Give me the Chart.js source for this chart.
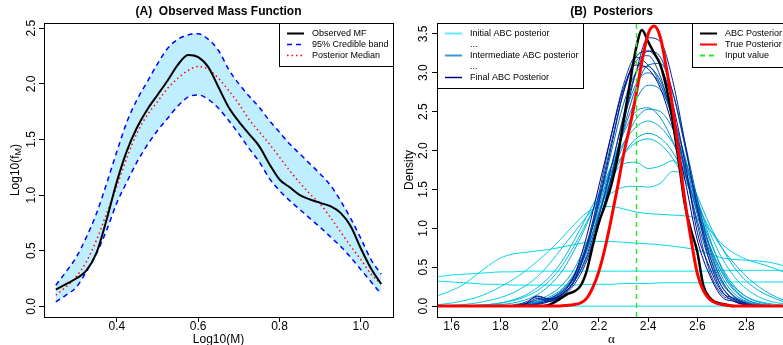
<!DOCTYPE html>
<html>
<head>
<meta charset="utf-8">
<script src="https://cdn.jsdelivr.net/npm/chart.js@4"></script>
<style>
  html, body { margin: 0; padding: 0; background: #fff; overflow: hidden; width: 783px; height: 345px; }
  #left { position: absolute; left: 0; top: 0; }
  #right { position: absolute; left: 400px; top: 0; }
</style>
</head>
<body>
<canvas id="left" width="400" height="345"></canvas>
<canvas id="right" width="400" height="345"></canvas>
<script>
// ---- panel A data ----
const massGrid = [0.25, 0.275, 0.3, 0.325, 0.35, 0.375, 0.4, 0.425, 0.45, 0.475, 0.5, 0.525, 0.55, 0.575, 0.6, 0.625, 0.65,
  0.675, 0.7, 0.725, 0.75, 0.775, 0.8, 0.825, 0.85, 0.875, 0.9, 0.925, 0.95, 0.975, 1.0, 1.025, 1.05];
const observedMF = [0.15, 0.20, 0.25, 0.32, 0.48, 0.78, 1.12, 1.40, 1.61, 1.77, 1.90, 2.03, 2.17, 2.26, 2.24, 2.15, 1.97,
  1.79, 1.66, 1.55, 1.44, 1.28, 1.14, 1.07, 1.00, 0.96, 0.93, 0.90, 0.84, 0.72, 0.52, 0.34, 0.20];
const bandUpper = [0.19, 0.31, 0.44, 0.62, 0.835, 1.105, 1.39, 1.66, 1.86, 2.02, 2.18, 2.32, 2.40, 2.44, 2.45, 2.40, 2.30,
  2.13, 2.0, 1.89, 1.79, 1.67, 1.565, 1.46, 1.37, 1.28, 1.19, 1.09, 0.95, 0.79, 0.61, 0.42, 0.29];
const bandLower = [0.04, 0.10, 0.17, 0.31, 0.475, 0.685, 0.93, 1.12, 1.30, 1.45, 1.58, 1.69, 1.80, 1.88, 1.90, 1.86, 1.78,
  1.67, 1.55, 1.42, 1.30, 1.15, 1.04, 0.95, 0.87, 0.79, 0.71, 0.625, 0.54, 0.44, 0.33, 0.22, 0.11];
const posteriorMedian = [0.10, 0.175, 0.265, 0.40, 0.595, 0.835, 1.08, 1.34, 1.56, 1.72, 1.84, 1.96, 2.05, 2.12, 2.155, 2.13, 2.05,
  1.94, 1.82, 1.68, 1.57, 1.46, 1.34, 1.22, 1.11, 1.01, 0.92, 0.80, 0.67, 0.54, 0.42, 0.29, 0.20];
const massTicksX = [0.4, 0.6, 0.8, 1.0];
const massTicksY = [0, 0.5, 1.0, 1.5, 2.0, 2.5];
const legendA = ['Observed MF', '95% Credible band', 'Posterior Median'];

// ---- panel B data ----
const alphaWide = [1.5, 1.55, 1.6, 1.65, 1.7, 1.75, 1.8, 1.85, 1.9, 1.95, 2.0, 2.05, 2.1, 2.15, 2.2, 2.25, 2.3, 2.35, 2.4,
  2.45, 2.5, 2.55, 2.6, 2.65, 2.7, 2.75, 2.8, 2.85, 2.9, 2.95, 3.0];
const earlyPosteriors = [
  [0, 0, 0, 0, 0, 0, 0, 0, 0, 0, 0, 0, 0, 0, 0, 0, 0, 0, 0, 0, 0, 0, 0, 0, 0, 0, 0, 0, 0, 0, 0],
  [0.37, 0.38, 0.40, 0.41, 0.42, 0.43, 0.44, 0.44, 0.45, 0.45, 0.45, 0.45, 0.45, 0.45, 0.45, 0.45, 0.45, 0.45, 0.45, 0.45,
    0.45, 0.45, 0.45, 0.45, 0.46, 0.46, 0.46, 0.46, 0.46, 0.46, 0.46],
  [0.33, 0.32, 0.31, 0.30, 0.29, 0.28, 0.28, 0.27, 0.27, 0.27, 0.27, 0.27, 0.27, 0.28, 0.28, 0.28, 0.29, 0.29, 0.29, 0.30,
    0.30, 0.30, 0.30, 0.30, 0.31, 0.31, 0.31, 0.31, 0.31, 0.31, 0.31],
  [0.08, 0.14, 0.2, 0.28, 0.4, 0.52, 0.62, 0.67, 0.69, 0.71, 0.73, 0.76, 0.79, 0.82, 0.83, 0.83, 0.82, 0.81, 0.8, 0.79,
    0.77, 0.75, 0.72, 0.67, 0.62, 0.6, 0.59, 0.58, 0.56, 0.52, 0.48],
  [0, 0.02, 0.04, 0.07, 0.11, 0.17, 0.25, 0.34, 0.45, 0.58, 0.72, 0.88, 1.05, 1.2, 1.27, 1.28, 1.25, 1.21, 1.19, 1.18,
    1.17, 1.16, 1.12, 0.98, 0.8, 0.68, 0.6, 0.55, 0.5, 0.44, 0.38],
  [0, 0.005, 0.01, 0.02, 0.04, 0.07, 0.11, 0.17, 0.26, 0.38, 0.55, 0.75, 0.95, 1.15, 1.32, 1.45, 1.53, 1.54, 1.53, 1.58,
    1.73, 1.68, 1.35, 0.95, 0.62, 0.38, 0.22, 0.12, 0.06, 0.03, 0.01],
  [0, 0, 0, 0, 0.01, 0.02, 0.04, 0.07, 0.12, 0.2, 0.33, 0.52, 0.78, 1.08, 1.4, 1.65, 1.83, 1.85, 1.77, 1.8,
    1.87, 1.68, 1.22, 0.78, 0.45, 0.24, 0.12, 0.06, 0.03, 0.01, 0],
  [0, 0, 0, 0, 0.01, 0.02, 0.04, 0.08, 0.14, 0.24, 0.38, 0.58, 0.85, 1.15, 1.45, 1.72, 1.95, 2.1, 2.15, 2.08,
    1.9, 1.62, 1.3, 1.0, 0.75, 0.55, 0.38, 0.25, 0.15, 0.08, 0.04],
  [0, 0, 0, 0, 0, 0.01, 0.02, 0.04, 0.08, 0.15, 0.27, 0.45, 0.72, 1.05, 1.42, 1.8, 2.1, 2.3, 2.38, 2.3,
    2.1, 1.8, 1.42, 1.05, 0.75, 0.5, 0.32, 0.2, 0.12, 0.06, 0.03]
];
const alphaNarrow = [1.85, 1.9, 1.95, 2.0, 2.05, 2.1, 2.15, 2.2, 2.25, 2.3, 2.35, 2.4, 2.45, 2.5, 2.55, 2.6, 2.65, 2.7,
  2.75, 2.8, 2.85, 2.9];
const latePosteriors = [
  [0.02, 0.04, 0.08, 0.15, 0.27, 0.48, 0.82, 1.22, 1.62, 1.95, 2.15, 2.22, 2.16, 1.98, 1.68, 1.28, 0.85, 0.5, 0.26, 0.12, 0.05, 0.02],
  [0.01, 0.03, 0.06, 0.12, 0.22, 0.42, 0.75, 1.18, 1.65, 2.08, 2.4, 2.53, 2.5, 2.28, 1.88, 1.38, 0.88, 0.48, 0.22, 0.09, 0.03, 0.01],
  [0, 0.02, 0.05, 0.1, 0.2, 0.4, 0.78, 1.28, 1.8, 2.22, 2.5, 2.55, 2.42, 2.12, 1.7, 1.22, 0.78, 0.43, 0.2, 0.08, 0.03, 0],
  [0, 0.01, 0.04, 0.09, 0.19, 0.38, 0.72, 1.18, 1.72, 2.25, 2.65, 2.84, 2.78, 2.45, 1.92, 1.32, 0.78, 0.38, 0.16, 0.06, 0.02, 0],
  [0, 0.01, 0.04, 0.09, 0.18, 0.36, 0.7, 1.2, 1.8, 2.4, 2.85, 3.0, 2.85, 2.45, 1.88, 1.25, 0.7, 0.33, 0.13, 0.05, 0.01, 0],
  [0, 0.02, 0.05, 0.1, 0.2, 0.4, 0.78, 1.32, 1.98, 2.6, 3.0, 3.08, 2.85, 2.4, 1.8, 1.18, 0.65, 0.3, 0.12, 0.04, 0.01, 0],
  [0, 0.01, 0.03, 0.07, 0.15, 0.32, 0.62, 1.08, 1.65, 2.28, 2.8, 3.1, 3.12, 2.75, 2.1, 1.38, 0.75, 0.33, 0.12, 0.04, 0.01, 0],
  [0, 0.03, 0.08, 0.1, 0.18, 0.38, 0.8, 1.4, 2.1, 2.75, 3.15, 3.22, 2.95, 2.4, 1.72, 1.1, 0.58, 0.25, 0.09, 0.03, 0, 0],
  [0, 0.05, 0.12, 0.08, 0.15, 0.32, 0.78, 1.45, 2.2, 2.85, 3.2, 3.1, 2.9, 2.45, 1.75, 1.05, 0.45, 0.15, 0.08, 0.02, 0, 0],
  [0, 0.01, 0.03, 0.08, 0.16, 0.32, 0.65, 1.15, 1.78, 2.45, 3.0, 3.28, 3.2, 2.75, 2.05, 1.3, 0.65, 0.25, 0.08, 0.02, 0, 0],
  [0, 0, 0.02, 0.06, 0.13, 0.28, 0.58, 1.05, 1.65, 2.35, 3.0, 3.45, 3.4, 2.9, 2.1, 1.25, 0.58, 0.2, 0.06, 0.02, 0, 0],
  [0, 0.02, 0.1, 0.06, 0.14, 0.34, 0.75, 1.35, 2.05, 2.75, 3.2, 3.28, 3.1, 2.6, 1.85, 0.95, 0.5, 0.18, 0.1, 0.03, 0, 0],
  [0, 0.03, 0.13, 0.09, 0.16, 0.4, 0.9, 1.55, 2.2, 2.8, 3.1, 3.05, 2.8, 2.3, 1.62, 0.85, 0.4, 0.12, 0.06, 0.01, 0, 0]
];
const abcAlpha = [1.975, 2.0, 2.025, 2.05, 2.075, 2.1, 2.125, 2.15, 2.175, 2.2, 2.225, 2.25, 2.275, 2.3, 2.325, 2.35,
  2.375, 2.4, 2.425, 2.45, 2.475, 2.5, 2.525, 2.55, 2.575, 2.6, 2.625, 2.65, 2.675, 2.7, 2.725, 2.75];
const abcPosterior = [0, 0.02, 0.06, 0.11, 0.16, 0.19, 0.26, 0.45, 0.78, 1.08, 1.3, 1.55, 1.9, 2.38, 2.85, 3.3,
  3.55, 3.4, 3.25, 3.1, 2.8, 2.38, 1.85, 1.3, 0.97, 0.7, 0.26, 0.11, 0.05, 0.03, 0.01, 0];
const trueAlpha = [1.5, 1.975, 2.0, 2.025, 2.05, 2.075, 2.1, 2.125, 2.15, 2.175, 2.2, 2.225, 2.25, 2.275, 2.3, 2.325, 2.35,
  2.375, 2.4, 2.425, 2.45, 2.475, 2.5, 2.525, 2.55, 2.575, 2.6, 2.625, 2.65, 2.675, 2.7, 2.725, 2.75, 3.0];
const truePosterior = [0, 0, 0, 0, 0.005, 0.01, 0.02, 0.04, 0.1, 0.24, 0.45, 0.75, 1.12, 1.52, 1.95, 2.3, 2.7,
  3.15, 3.5, 3.6, 3.45, 3.05, 2.55, 1.95, 1.35, 0.85, 0.42, 0.2, 0.09, 0.04, 0.02, 0.01, 0, 0];
const inputValue = 2.35;
const alphaTicksX = [1.6, 1.8, 2.0, 2.2, 2.4, 2.6, 2.8];
const densityTicksY = [0, 0.5, 1.0, 1.5, 2.0, 2.5, 3.0, 3.5];
const legendB1 = ['Initial ABC posterior', '...', 'Intermediate ABC posterior', '...', 'Final ABC Posterior'];
const legendB2 = ['ABC Posterior', 'True Posterior', 'Input value'];

const FONT = '"Liberation Sans", Arial, Helvetica, sans-serif';
Chart.defaults.font.family = FONT;
Chart.defaults.color = '#000';

const pts = (xs, ys) => xs.map((x, i) => ({ x: x, y: ys[i] }));

function rampColor(i, n) {
  const t = Math.pow(i / (n - 1), 1.6);
  const c0 = [0, 225, 240], c1 = [0, 0, 130];
  const c = c0.map((v, k) => Math.round(v + (c1[k] - v) * t));
  return 'rgb(' + c.join(',') + ')';
}

function fixTicks(values) {
  return scale => { scale.ticks = values.map(v => ({ value: v })); };
}

function drawLegend(ctx, box, items) {
  ctx.setLineDash([]);
  ctx.fillStyle = '#fff';
  ctx.fillRect(box.l, box.t, box.r - box.l, box.b - box.t);
  ctx.strokeStyle = '#000';
  ctx.lineWidth = 1;
  ctx.strokeRect(box.l + 0.5, box.t + 0.5, box.r - box.l, box.b - box.t);
  ctx.font = '9px ' + FONT;
  ctx.textAlign = 'left';
  ctx.textBaseline = 'middle';
  items.forEach((it, i) => {
    const y = box.t + 10.5 + i * 11;
    if (it.color) {
      ctx.beginPath();
      ctx.strokeStyle = it.color;
      ctx.lineWidth = it.width;
      ctx.setLineDash(it.dash || []);
      ctx.moveTo(box.l + 8, y);
      ctx.lineTo(box.l + 25, y);
      ctx.stroke();
      ctx.setLineDash([]);
    }
    ctx.fillStyle = '#000';
    ctx.fillText(it.text, box.l + 33, y);
  });
}

function makeDecor(cfg) {
  return {
    id: 'decor',
    afterDraw(chart) {
      const ctx = chart.ctx, a = chart.chartArea, ys = chart.scales.y;
      ctx.save();
      if (cfg.overlay) cfg.overlay(chart, ctx, a);
      // frame
      ctx.setLineDash([]);
      ctx.strokeStyle = '#000';
      ctx.lineWidth = 1;
      ctx.strokeRect(Math.round(a.left) + 0.5, Math.round(a.top) + 0.5,
        Math.round(a.right - a.left), Math.round(a.bottom - a.top));
      // title
      ctx.fillStyle = '#000';
      ctx.font = 'bold 12px ' + FONT;
      ctx.textAlign = 'center';
      ctx.textBaseline = 'middle';
      ctx.fillText(cfg.title, (a.left + a.right) / 2, 12);
      // rotated y tick labels
      ctx.font = '12px ' + FONT;
      ys.ticks.forEach(t => {
        ctx.save();
        ctx.translate(cfg.yLabelX, ys.getPixelForValue(t.value));
        ctx.rotate(-Math.PI / 2);
        ctx.fillText(t.value.toFixed(1), 0, 0);
        ctx.restore();
      });
      // y title
      ctx.save();
      ctx.translate(cfg.yTitleX, (a.top + a.bottom) / 2);
      ctx.rotate(-Math.PI / 2);
      cfg.yTitle(ctx);
      ctx.restore();
      // x title
      cfg.xTitle(ctx, (a.left + a.right) / 2, 340);
      cfg.legends(ctx, a);
      ctx.restore();
    }
  };
}

function baseOptions(xr, yr, xTicks, yTicks, yWidth, padRight) {
  return {
    responsive: false,
    animation: false,
    devicePixelRatio: 1,
    layout: { autoPadding: false, padding: { left: 0, top: 23, right: padRight, bottom: 0 } },
    plugins: { legend: { display: false }, tooltip: { enabled: false }, filler: { drawTime: 'beforeDatasetsDraw' } },
    elements: { point: { radius: 0 }, line: { cubicInterpolationMode: 'monotone' } },
    scales: {
      x: {
        type: 'linear', min: xr[0], max: xr[1],
        afterBuildTicks: fixTicks(xTicks),
        afterFit: s => { s.height = 28; },
        grid: { drawOnChartArea: false, drawTicks: true, tickLength: 5, color: '#000' },
        border: { display: false },
        ticks: { font: { size: 12 }, color: '#000', padding: -3, maxRotation: 0, autoSkip: false,
          callback: v => v.toFixed(1) }
      },
      y: {
        type: 'linear', min: yr[0], max: yr[1],
        afterBuildTicks: fixTicks(yTicks),
        afterFit: s => { s.width = yWidth; },
        grid: { drawOnChartArea: false, drawTicks: true, tickLength: 5, color: '#000' },
        border: { display: false },
        ticks: { display: false }
      }
    }
  };
}

// ---- panel A ----
const lineA = { pointRadius: 0, fill: false, clip: 0 };
new Chart(document.getElementById('left'), {
  type: 'line',
  data: {
    datasets: [
      Object.assign({ label: legendA[0], data: pts(massGrid, observedMF), borderColor: '#000', borderWidth: 2 }, lineA),
      Object.assign({ label: legendA[2], data: pts(massGrid, posteriorMedian), borderColor: '#ff0000', borderWidth: 1.5,
        borderDash: [1.5, 3] }, lineA),
      Object.assign({}, lineA, { label: legendA[1], data: pts(massGrid, bandUpper), borderColor: '#0000ff', borderWidth: 1.5,
        borderDash: [5, 4], fill: '+1', backgroundColor: '#bfefff' }),
      Object.assign({ label: 'lower', data: pts(massGrid, bandLower), borderColor: '#0000ff', borderWidth: 1.5,
        borderDash: [5, 4] }, lineA)
    ]
  },
  options: baseOptions([0.221, 1.079], [-0.096, 2.547], massTicksX, massTicksY, 44, 7),
  plugins: [makeDecor({
    title: '(A)  Observed Mass Function',
    yLabelX: 31.5,
    yTitleX: 16,
    yTitle: ctx => {
      ctx.font = '12px ' + FONT;
      const w1 = ctx.measureText('Log10(f').width, w3 = ctx.measureText(')').width;
      ctx.font = '9px ' + FONT;
      const w2 = ctx.measureText('M').width;
      let x0 = -(w1 + w2 + w3) / 2;
      ctx.textAlign = 'left';
      ctx.font = '12px ' + FONT;
      ctx.fillText('Log10(f', x0, 0);
      ctx.font = '9px ' + FONT;
      ctx.fillText('M', x0 + w1, 3);
      ctx.font = '12px ' + FONT;
      ctx.fillText(')', x0 + w1 + w2, 0);
    },
    xTitle: (ctx, x, y) => {
      ctx.font = '12px ' + FONT;
      ctx.textAlign = 'center';
      ctx.fillText('Log10(M)', x, y);
    },
    legends: (ctx, a) => {
      drawLegend(ctx, { l: 279, t: 23, r: Math.round(a.right), b: 66 }, [
        { text: legendA[0], color: '#000', width: 2 },
        { text: legendA[1], color: '#0000ff', width: 1.5, dash: [5, 4] },
        { text: legendA[2], color: '#ff0000', width: 1.5, dash: [1.5, 3] }
      ]);
    }
  })]
});

// ---- panel B ----
const nCurves = earlyPosteriors.length + latePosteriors.length;
const curveSets = [];
earlyPosteriors.forEach((ys, i) => curveSets.push({ xs: alphaWide, ys: ys, idx: i }));
latePosteriors.forEach((ys, i) => curveSets.push({ xs: alphaNarrow, ys: ys, idx: earlyPosteriors.length + i }));
// later curves on top: Chart.js draws index 0 last
const curveDatasets = curveSets.slice().reverse().map(c => ({
  label: 'abc' + c.idx, data: pts(c.xs, c.ys), borderColor: rampColor(c.idx, nCurves), borderWidth: 1,
  pointRadius: 0, fill: false, clip: 0
}));

new Chart(document.getElementById('right'), {
  type: 'line',
  data: {
    datasets: [
      { label: legendB2[1], data: pts(trueAlpha, truePosterior), borderColor: '#ff0000', borderWidth: 3, pointRadius: 0, fill: false, clip: 0 },
      { label: legendB2[0], data: pts(abcAlpha, abcPosterior), borderColor: '#000', borderWidth: 2.5, pointRadius: 0, fill: false, clip: 0 }
    ].concat(curveDatasets)
  },
  options: baseOptions([1.541, 2.961], [-0.14, 3.64], alphaTicksX, densityTicksY, 37, 14),
  plugins: [makeDecor({
    title: '(B)  Posteriors',
    yLabelX: 23.5,
    yTitleX: 10,
    overlay: (chart, ctx, a) => {
      const x = Math.round(chart.scales.x.getPixelForValue(inputValue)) + 0.5;
      ctx.beginPath();
      ctx.strokeStyle = '#22ee22';
      ctx.lineWidth = 1.5;
      ctx.setLineDash([5, 4]);
      ctx.moveTo(x, a.bottom);
      ctx.lineTo(x, a.top);
      ctx.stroke();
    },
    yTitle: ctx => {
      ctx.font = '12px ' + FONT;
      ctx.textAlign = 'center';
      ctx.fillText('Density', 0, 0);
    },
    xTitle: (ctx, x, y) => {
      ctx.font = '13px "Liberation Serif", "DejaVu Serif", serif';
      ctx.textAlign = 'center';
      ctx.fillText('α', x, y);
    },
    legends: (ctx, a) => {
      drawLegend(ctx, { l: Math.round(a.left), t: 23, r: Math.round(a.left) + 146, b: 88 }, [
        { text: legendB1[0], color: 'rgb(100,235,245)', width: 2 },
        { text: legendB1[1] },
        { text: legendB1[2], color: 'rgb(60,150,210)', width: 2 },
        { text: legendB1[3] },
        { text: legendB1[4], color: 'rgb(0,0,130)', width: 1.5 }
      ]);
      drawLegend(ctx, { l: 292, t: 23, r: Math.round(a.right), b: 67 }, [
        { text: legendB2[0], color: '#000', width: 2 },
        { text: legendB2[1], color: '#ff0000', width: 2 },
        { text: legendB2[2], color: '#22ee22', width: 2, dash: [5, 4] }
      ]);
    }
  })]
});
</script>
</body>
</html>
